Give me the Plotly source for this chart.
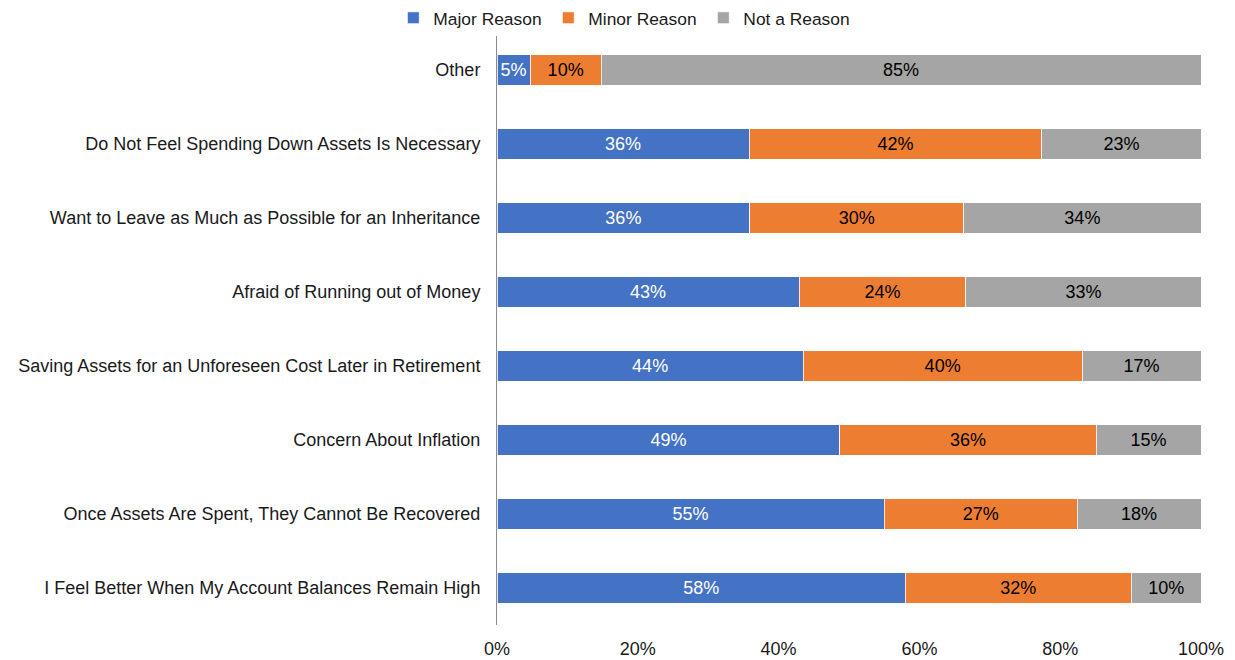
import plotly.graph_objects as go

# categories, bottom to top as drawn
categories = [
    "I Feel Better When My Account Balances Remain High",
    "Once Assets Are Spent, They Cannot Be Recovered",
    "Concern About Inflation",
    "Saving Assets for an Unforeseen Cost Later in Retirement",
    "Afraid of Running out of Money",
    "Want to Leave as Much as Possible for an Inheritance",
    "Do Not Feel Spending Down Assets Is Necessary",
    "Other",
]

major = [58.0, 55.0, 48.7, 43.5, 42.9, 35.9, 35.8, 4.7]
minor = [32.1, 27.4, 36.4, 39.6, 23.7, 30.4, 41.6, 10.1]
not_reason = [9.9, 17.6, 14.9, 16.9, 33.4, 33.7, 22.6, 85.2]

tick_vals = [0, 20, 40, 60, 80, 100]
tick_text = ["0%", "20%", "40%", "60%", "80%", "100%"]

series = [
    ("Major Reason", major, "#4472C4", "white"),
    ("Minor Reason", minor, "#ED7D31", "black"),
    ("Not a Reason", not_reason, "#A5A5A5", "black"),
]

font = "Liberation Sans, Arial, sans-serif"

fig = go.Figure()
for name, vals, color, txtcolor in series:
    fig.add_trace(
        go.Bar(
            y=categories,
            x=vals,
            name=name,
            orientation="h",
            marker=dict(color=color, line=dict(color="white", width=0.8)),
            texttemplate="%{x:.0f}%",
            textposition="inside",
            insidetextanchor="middle",
            textfont=dict(color=txtcolor, size=18, family=font),
            constraintext="none",
        )
    )

# page body adds an 8px offset, margins are shifted to compensate
fig.update_layout(
    barmode="stack",
    bargap=0.59,
    width=1235,
    height=660,
    plot_bgcolor="white",
    paper_bgcolor="white",
    font=dict(family=font, size=18, color="#1a1a1a"),
    margin=dict(l=489, r=42, t=25, b=43, autoexpand=False),
    legend=dict(
        orientation="h",
        xref="container",
        x=0.312,
        xanchor="left",
        y=0.995,
        yanchor="bottom",
        font=dict(size=17.4),
        itemwidth=30,
        entrywidth=110,
        entrywidthmode="pixels",
        traceorder="normal",
    ),
    xaxis=dict(
        range=[0, 100],
        tickvals=tick_vals,
        ticktext=tick_text,
        showgrid=False,
        zeroline=False,
        showline=False,
        ticks="",
        ticklabelstandoff=11,
        automargin=False,
    ),
    yaxis=dict(
        showline=True,
        linecolor="#8c8c8c",
        linewidth=1,
        ticks="",
        ticklabelstandoff=12,
        automargin=False,
    ),
)

fig.write_html("out.html")
